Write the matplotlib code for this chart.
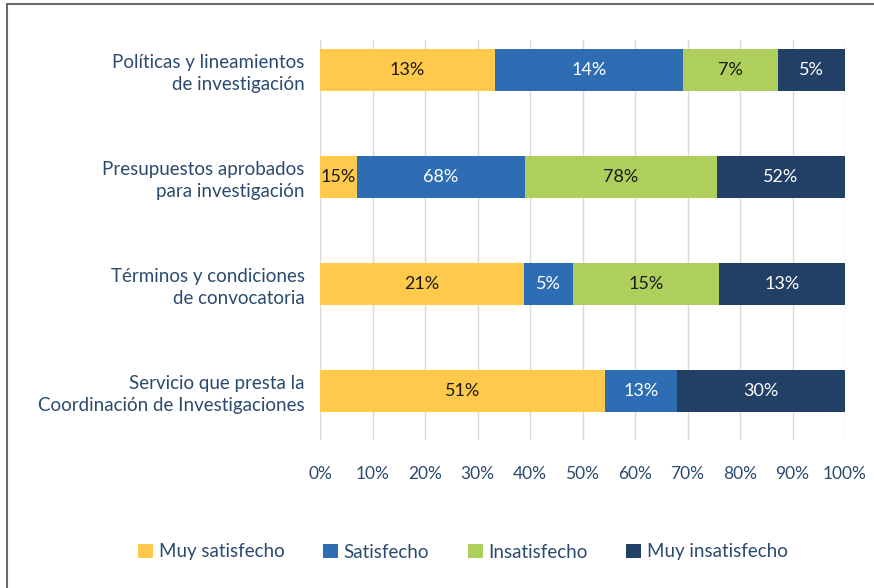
import matplotlib
matplotlib.use("Agg")
import matplotlib.pyplot as plt
import numpy as np
from matplotlib.patches import Rectangle

categories = ["Políticas y lineamientos\nde investigación",
              "Presupuestos aprobados\npara investigación",
              "Términos y condiciones\nde convocatoria",
              "Servicio que presta la\nCoordinación de Investigaciones"]
series_names = ["Muy satisfecho", "Satisfecho", "Insatisfecho", "Muy insatisfecho"]
muy_satisfecho = [13, 15, 21, 51]
satisfecho = [14, 68, 5, 13]
insatisfecho = [7, 78, 15, 0]
muy_insatisfecho = [5, 52, 13, 30]
xtick_labels = ["0%", "10%", "20%", "30%", "40%", "50%", "60%", "70%", "80%", "90%", "100%"]

colors = ["#FFC94B", "#2E6DB4", "#AECF5B", "#223F66"]
label_colors = ["#1a1a1a", "white", "#1a1a1a", "white"]
text_color = "#2B4A6F"

plt.rcParams['font.family'] = ['Lato', 'DejaVu Sans']

fig = plt.figure(figsize=(8.74, 5.88), dpi=100)
ax = fig.add_axes([320/874, 1-440/588, (845-320)/874, 400/588])

data = np.array([muy_satisfecho, satisfecho, insatisfecho, muy_insatisfecho], dtype=float)
totals = data.sum(axis=0)
frac = data / totals * 100
y = np.arange(len(categories))
left = np.zeros(len(categories))
for i, name in enumerate(series_names):
    ax.barh(y, frac[i], left=left, height=0.39, color=colors[i], label=name, zorder=3)
    for j in range(len(categories)):
        if data[i, j] > 0:
            ax.text(left[j] + frac[i, j]/2, y[j], f"{int(data[i, j])}%", ha="center", va="center",
                    color=label_colors[i], fontsize=13, zorder=4)
    left += frac[i]

ax.set_xlim(0, 100)
ax.set_ylim(3.46, -0.28)
ax.set_xticks(np.arange(0, 101, 10))
ax.set_xticklabels(xtick_labels, color=text_color, fontsize=12.5)
ax.set_yticks(y)
ax.set_yticklabels(categories, color=text_color, fontsize=13.5, ha="right", linespacing=1.35)
ax.tick_params(axis="both", length=0)
ax.tick_params(axis="x", pad=19)
ax.tick_params(axis="y", pad=11)
ax.grid(axis="x", color="#D9D9D9", linewidth=1, zorder=0)
for s in ax.spines.values():
    s.set_visible(False)

fig.legend(loc="center", bbox_to_anchor=(463/874, 1-552/588), ncol=4, frameon=False,
           fontsize=13.5, labelcolor=text_color, handlelength=0.8, handleheight=0.8,
           handletextpad=0.3, columnspacing=2.05)

fig.patches.append(Rectangle((7/874, -0.1), 1.2, 1-4/588+0.1, transform=fig.transFigure,
                             fill=False, edgecolor="#6b6b6b", linewidth=1.5))

fig.savefig("out.png", dpi=100)
